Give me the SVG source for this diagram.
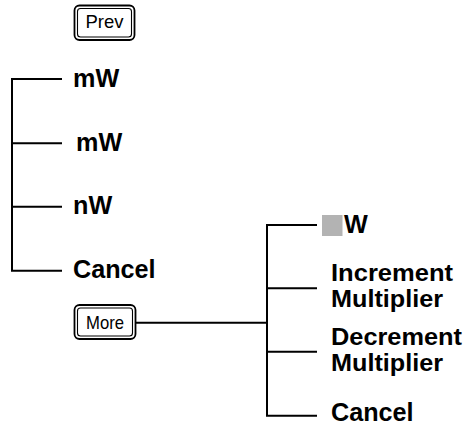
<svg xmlns="http://www.w3.org/2000/svg" width="466" height="426" viewBox="0 0 466 426">
<style>
.ln{stroke:#000;stroke-width:2;fill:none}
.lbl{font-family:"Liberation Sans",Arial,sans-serif;font-weight:bold;font-size:25.2px;fill:#000}
.lb2{font-family:"Liberation Sans",Arial,sans-serif;font-weight:bold;font-size:23.6px;fill:#000}
.key{font-family:"Liberation Sans",Arial,sans-serif;font-size:19px;fill:#000;text-anchor:middle}
.ko{fill:#fff;stroke:#000;stroke-width:1.8}
.ki{fill:none;stroke:#000;stroke-width:1.1}
</style>
<g id="connectors">
<path class="ln" d="M62,79 H12 V270.7 H62 M12,143.3 H62 M12,206.7 H62"/>
<path class="ln" d="M136,322.7 H267 M317,225 H267 V415.7 H317 M267,288.3 H317 M267,351.7 H317"/>
</g>
<g id="prev">
<rect class="ko" x="74.5" y="5.5" width="60" height="34.5" rx="5"/>
<rect class="ki" x="77.5" y="8.5" width="54" height="28.5" rx="3"/>
<text class="key" x="104.5" y="28" textLength="38" lengthAdjust="spacingAndGlyphs">Prev</text>
</g>
<g id="more">
<rect class="ko" x="74.5" y="305" width="61" height="34" rx="5"/>
<rect class="ki" x="77.5" y="308" width="55" height="28" rx="3"/>
<text class="key" x="105" y="328.5" textLength="38" lengthAdjust="spacingAndGlyphs">More</text>
</g>
<g id="n-mw1"><text class="lbl" x="73" y="86.5">mW</text></g>
<g id="n-mw2"><text class="lbl" x="76" y="150.5">mW</text></g>
<g id="n-nw"><text class="lbl" x="73" y="214">nW</text></g>
<g id="n-cancel1"><text class="lbl" x="73" y="278">Cancel</text></g>
<g id="n-w"><rect x="322" y="215" width="20.5" height="21" fill="#b3b3b3"/><text class="lbl" x="344" y="233">W</text></g>
<g id="n-inc"><text class="lb2" x="331" y="280.5" textLength="122" lengthAdjust="spacingAndGlyphs">Increment</text><text class="lb2" x="331" y="307" textLength="112" lengthAdjust="spacingAndGlyphs">Multiplier</text></g>
<g id="n-dec"><text class="lb2" x="331" y="344.5" textLength="131" lengthAdjust="spacingAndGlyphs">Decrement</text><text class="lb2" x="331" y="371" textLength="112" lengthAdjust="spacingAndGlyphs">Multiplier</text></g>
<g id="n-cancel2"><text class="lbl" x="331" y="420.7">Cancel</text></g>
</svg>
